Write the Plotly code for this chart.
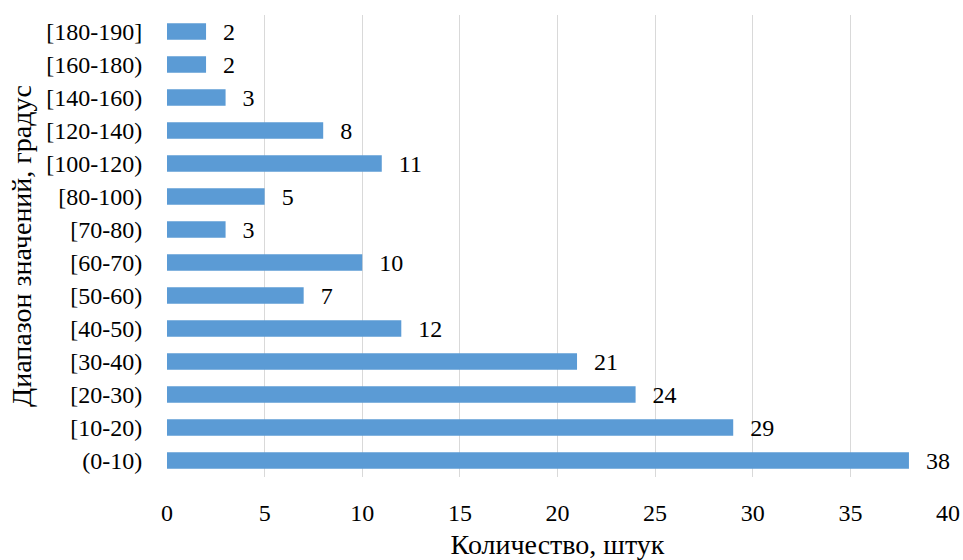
import plotly.graph_objects as go

categories = ["(0-10)", "[10-20)", "[20-30)", "[30-40)", "[40-50)", "[50-60)", "[60-70)",
              "[70-80)", "[80-100)", "[100-120)", "[120-140)", "[140-160)", "[160-180)", "[180-190]"]
counts = [38, 29, 24, 21, 12, 7, 10, 3, 5, 11, 8, 3, 2, 2]
x_ticks = [0, 5, 10, 15, 20, 25, 30, 35, 40]

FONT = "Liberation Serif, Times New Roman, serif"

fig = go.Figure(go.Bar(
    y=categories,
    x=counts,
    orientation="h",
    marker=dict(color="#5B9BD5", line=dict(width=0)),
    width=0.5,
    text=counts,
    texttemplate="\u00a0\u00a0\u200a%{x}",
    textposition="outside",
    constraintext="none",
    cliponaxis=False,
    textfont=dict(family=FONT, size=24, color="#000000"),
))

fig.update_layout(
    width=963, height=560,
    margin=dict(l=167, r=15, t=15, b=83, autoexpand=False),
    paper_bgcolor="white", plot_bgcolor="white",
    font=dict(family=FONT, size=24, color="#000000"),
    showlegend=False,
    xaxis=dict(
        range=[0, 40], tickvals=x_ticks, ticks="outside", ticklen=14, tickcolor="rgba(0,0,0,0)",
        showgrid=True, gridcolor="#D9D9D9", gridwidth=1.3, zeroline=False, showline=False,
        automargin=False,
        tickfont=dict(family=FONT, size=24),
        title=dict(text="Количество, штук", font=dict(family=FONT, size=28), standoff=12),
    ),
    yaxis=dict(
        categoryorder="array", categoryarray=categories,
        ticks="outside", ticklen=19, tickcolor="rgba(0,0,0,0)",
        showgrid=False, zeroline=False, showline=False,
        automargin=False,
        tickfont=dict(family=FONT, size=24),
        title=dict(text="Диапазон значений, градус", font=dict(family=FONT, size=28), standoff=6),
    ),
)

fig.write_html(
    "out.html",
    config={"displayModeBar": False},
    post_script="document.body.style.margin='0';document.body.style.overflow='hidden';",
)
